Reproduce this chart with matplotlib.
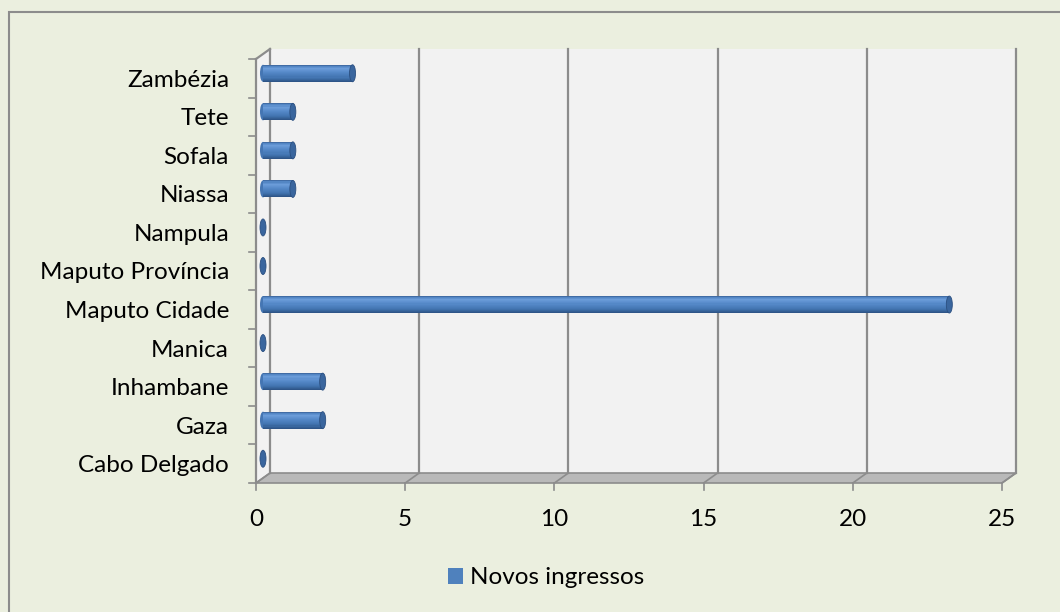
import matplotlib
matplotlib.use('agg')
import matplotlib.pyplot as plt
from matplotlib.patches import Rectangle, Polygon, Ellipse, Patch
from matplotlib.colors import LinearSegmentedColormap

# data (bottom -> top, as in the chart)
regions = ['Cabo Delgado', 'Gaza', 'Inhambane', 'Manica', 'Maputo Cidade',
           'Maputo Província', 'Nampula', 'Niassa', 'Sofala', 'Tete', 'Zambézia']
novos_ingressos = [0, 2, 2, 0, 23, 0, 0, 1, 1, 1, 3]
x_ticks = [0, 5, 10, 15, 20, 25]
series_name = 'Novos ingressos'

plt.rcParams['font.family'] = ['Lato', 'DejaVu Sans']
FS = 17.5

W, H = 1060, 612
BG = '#EBEFDF'
WALL = '#F2F2F2'
GRID = '#8C8C8C'
BLUE = '#4F81BD'

fig = plt.figure(figsize=(W / 100, H / 100), dpi=100, facecolor=BG)
# front plane of the 3d box
ax = fig.add_axes([256 / W, 1 - 483 / H, 746 / W, 424 / H])
xmax = x_ticks[-1]
n = len(regions)
ax.set_xlim(0, xmax)
ax.set_ylim(-0.5, n - 0.5)
ax.axis('off')

sx = 746 / xmax      # px per value unit
sy = 424 / n         # px per category
DX = 14 / sx         # depth offset in data units
DY = 10 / sy
ylo, yhi = -0.5, n - 0.5

# walls and floor
ax.add_patch(Rectangle((DX, ylo + DY), xmax, n, facecolor=WALL, edgecolor='none',
                       clip_on=False, zorder=0))
ax.add_patch(Polygon([(0, ylo), (DX, ylo + DY), (DX, yhi + DY), (0, yhi)],
                     facecolor=WALL, edgecolor='none', clip_on=False, zorder=0))
ax.add_patch(Polygon([(0, ylo), (xmax, ylo), (xmax + DX, ylo + DY), (DX, ylo + DY)],
                     facecolor='#B9B9B9', edgecolor=GRID, lw=1.2, clip_on=False, zorder=1))

# gridlines on back wall + floor diagonals
for xt in x_ticks:
    ax.plot([xt + DX, xt + DX], [ylo + DY, yhi + DY], color=GRID, lw=1.6,
            clip_on=False, zorder=1)
    ax.plot([xt, xt + DX], [ylo, ylo + DY], color=GRID, lw=1.2, clip_on=False, zorder=2)
# top diagonal of side wall and front vertical axis
ax.plot([0, DX], [yhi, yhi + DY], color=GRID, lw=1.6, clip_on=False, zorder=2)
ax.plot([0, 0], [ylo, yhi], color=GRID, lw=1.6, clip_on=False, zorder=2)

# tick marks
tlx = 7 / sx
for k in range(n + 1):
    ax.plot([-tlx, 0], [ylo + k, ylo + k], color=GRID, lw=1.2, clip_on=False, zorder=2)
tly = 7 / sy
for xt in x_ticks:
    ax.plot([xt, xt], [ylo - tly, ylo], color=GRID, lw=1.2, clip_on=False, zorder=2)

# cylinders
shade = LinearSegmentedColormap.from_list(
    'cyl', [(0.0, '#2B5082'), (0.25, '#4274B0'), (0.55, '#5589C8'),
            (0.78, '#6C9DDA'), (0.92, '#5184C2'), (1.0, '#385F96')])
bh = 17 / sy
cap_w = 6 / sx
nstrip = 16
for i, v in enumerate(novos_ingressos):
    yc = i + DY / 2
    x0 = DX / 2
    if v > 0:
        ax.add_patch(Ellipse((x0, yc), cap_w, bh, facecolor='#4576B3', edgecolor='none',
                             clip_on=False, zorder=3))
        for s in range(nstrip):
            y0 = yc - bh / 2 + s * bh / nstrip
            ax.barh(y0, v, height=bh / nstrip + 0.002, left=x0, align='edge',
                    color=shade((s + 0.5) / nstrip), edgecolor='none', zorder=3)
    ax.add_patch(Ellipse((x0 + v, yc), cap_w, bh, facecolor='#3A669E', edgecolor='#2B4F80',
                         lw=0.6, clip_on=False, zorder=4))

# category labels
for i, name in enumerate(regions):
    ax.text(-27 / sx, i - 2 / sy, name, ha='right', va='center', fontsize=FS, color='black')
# value labels
for xt in x_ticks:
    ax.text(xt, ylo - 37 / sy, str(xt), ha='center', va='center', fontsize=FS, color='black')

# legend
fig.legend(handles=[Patch(facecolor=BLUE, edgecolor='none')], labels=[series_name],
           loc='center', bbox_to_anchor=(546 / W, 1 - 578 / H), frameon=False,
           fontsize=FS, handlelength=0.62, handleheight=0.62, handletextpad=0.3)

# outer chart border (clipped by image edge at right / bottom)
fig.patches.append(Rectangle((9 / W, -0.1), 1.2, 1.1 - 12 / H, transform=fig.transFigure,
                             facecolor='none', edgecolor='#8C8C8C', lw=1.5))

fig.savefig('out.png', dpi=100, facecolor=BG)
